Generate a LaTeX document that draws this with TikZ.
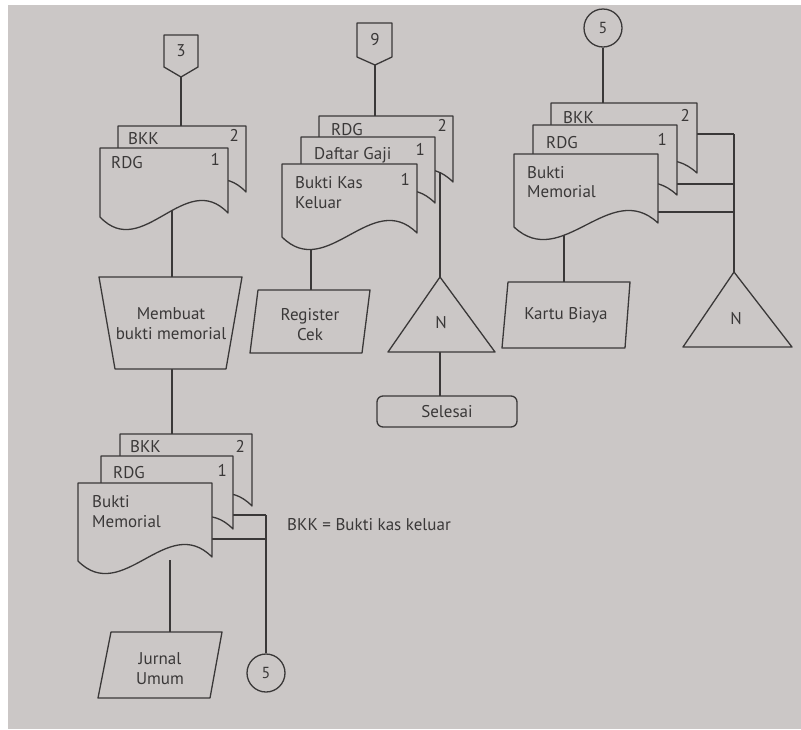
\documentclass[tikz,border=0pt]{standalone}
\usepackage{fontspec}
\setmainfont{PT Sans}
\usetikzlibrary{calc}
\definecolor{paper}{RGB}{203,199,198}
\definecolor{ink}{RGB}{58,56,56}
\newcommand{\mydoc}[5]{%
  \pgfmathsetmacro{\wA}{#1+(#3-#1)/3}%
  \pgfmathsetmacro{\wB}{#3-(#3-#1)/3}%
  \pgfmathsetmacro{\yA}{#4-45}%
  \pgfmathsetmacro{\yB}{#4+49}%
  \pgfmathsetmacro{\yC}{#4+4}%
  \draw[shp] (#1,#2) -- (#3,#2) -- (#3,#4) .. controls (\wB,\yA) and (\wA,\yB) .. (#1,\yC) -- cycle;
  \coordinate (#5) at ({(#1+#3)/2},{(#2+#4)/2});
}
\begin{document}
\begin{tikzpicture}[x=1pt,y=-1pt,
  shp/.style={draw=ink,fill=paper,line width=1.3pt,line join=round},
  conn/.style={draw=ink,line width=1.3pt},
  lbl/.style={font=\fontsize{17}{20}\selectfont,text=ink,inner sep=0pt},
  ctr/.style={lbl,align=center},
  conncirc/.style={circle,draw=ink,line width=1.3pt,fill=paper,minimum size=38pt,inner sep=0pt,font=\fontsize{16}{18}\selectfont,text=ink}]
\useasboundingbox (0,0) rectangle (801,729);
\fill[paper] (0,0) rectangle (801,729);
\fill[white] (0,0) rectangle (801,5);
\fill[white] (0,0) rectangle (8,729);

% ---------- named connector ends ----------
\coordinate (p3) at (181,77);
\coordinate (p9) at (375,65);
\node[conncirc] (c5a) at (603,28) {5};
\node[conncirc] (c5b) at (266,673) {5};

\coordinate (trapT) at (172,277);
\coordinate (trapB) at (172,369);
\coordinate (jurT) at (170,632);
\coordinate (regT) at (311,290);
\coordinate (triA) at (440,277);
\coordinate (triAb) at (440,352);
\coordinate (selT) at (440,396);
\coordinate (karT) at (564,282);
\coordinate (triB) at (734,272);
\coordinate (j1a) at (266,515);
\coordinate (j1b) at (266,539);
\coordinate (j3a) at (734,134);
\coordinate (j3b) at (734,184);
\coordinate (j3c) at (734,212);

% ---------- connectors (drawn first; documents hide their inner parts) ----------
\draw[conn] (p3) -- (181,140);
\draw[conn] (172,200) -- (trapT);
\draw[conn] (trapB) -- (172,450);
\draw[conn] (225,515) -- (j1a);
\draw[conn] (200,539) -- (j1b);
\draw[conn] (j1a) -- (c5b.north);
\draw[conn] (170,560) -- (jurT);

\draw[conn] (p9) -- (375,130);
\draw[conn] (440,150) -- (triA);
\draw[conn] (triAb) -- (selT);
\draw[conn] (311,230) -- (regT);

\draw[conn] (c5a.south) -- (603,120);
\draw[conn] (690,134) -- (j3a);
\draw[conn] (670,184) -- (j3b);
\draw[conn] (650,212) -- (j3c);
\draw[conn] (j3a) -- (triB);
\draw[conn] (564,235) -- (karT);

% ---------- column 1 ----------
\draw[shp] (164,35) -- (198,35) -- (198,67) -- (p3) -- (164,67) -- cycle;
\node[lbl] (t3) at (181,51) {3};
\mydoc{118}{126}{246}{192}{dA}
\mydoc{100}{148}{228}{213}{dB}
\node[lbl,anchor=base west] (lA) at (128,144) {BKK};
\node[lbl,anchor=base east] (nA) at (239,141) {2};
\node[lbl,anchor=base west] (lB) at (111,168) {RDG};
\node[lbl,anchor=base east] (nB) at (220,165) {1};

\draw[shp] (99,277) -- (242,277) -- (226,369) -- (115,369) -- cycle;
\node[ctr] (trap) at (171,324) {Membuat\\bukti memorial};

\mydoc{120}{434}{252}{506}{dC}
\mydoc{101}{456}{233}{529}{dD}
\mydoc{78}{483}{212}{557}{dE}
\node[lbl,anchor=base west] (lC) at (130,452) {BKK};
\node[lbl,anchor=base east] (nC) at (245,452) {2};
\node[lbl,anchor=base west] (lD) at (113,478) {RDG};
\node[lbl,anchor=base east] (nD) at (227,476) {1};
\node[lbl,anchor=base west] (lE) at (92,507) {Bukti};
\node[lbl,anchor=base west] (lE2) at (92,527) {Memorial};

\draw[shp] (111,632) -- (222,632) -- (210,698) -- (98,698) -- cycle;
\node[ctr] (jur) at (160,669) {Jurnal\\Umum};

\node[lbl,anchor=base west] (leg) at (287,530) {BKK = Bukti kas keluar};

% ---------- column 2 ----------
\draw[shp] (357,23) -- (392,23) -- (392,57) -- (p9) -- (357,57) -- cycle;
\node[lbl] (t9) at (375,40) {9};
\mydoc{319}{116}{453}{182}{dF}
\mydoc{301}{137}{435}{203}{dG}
\mydoc{282}{164}{417}{233}{dH}
\node[lbl,anchor=base west] (lF) at (331,135) {RDG};
\node[lbl,anchor=base east] (nF) at (447,131) {2};
\node[lbl,anchor=base west] (lG) at (314,159) {Daftar Gaji};
\node[lbl,anchor=base east] (nG) at (425,155) {1};
\node[lbl,anchor=base west] (lH) at (295,188) {Bukti Kas};
\node[lbl,anchor=base west] (lH2) at (295,208) {Keluar};
\node[lbl,anchor=base east] (nH) at (410,185) {1};

\draw[shp] (triA) -- (495,352) -- (388,352) -- cycle;
\node[lbl] (nN1) at (441,323) {N};
\draw[shp,rounded corners=6pt] (377,396) rectangle (517,427);
\node[lbl] (sel) at (447,412) {Selesai};

\draw[shp] (258,290) -- (370,290) -- (362,353) -- (250,353) -- cycle;
\node[ctr] (reg) at (310,325) {Register\\Cek};

% ---------- column 3 ----------
\mydoc{551}{103}{697}{173}{dI}
\mydoc{533}{125}{677}{195}{dJ}
\mydoc{514}{154}{658}{223}{dK}
\node[lbl,anchor=base west] (lI) at (563,123) {BKK};
\node[lbl,anchor=base east] (nI) at (690,121) {2};
\node[lbl,anchor=base west] (lJ) at (546,148) {RDG};
\node[lbl,anchor=base east] (nJ) at (667,145) {1};
\node[lbl,anchor=base west] (lK) at (527,178) {Bukti};
\node[lbl,anchor=base west] (lK2) at (527,197) {Memorial};

\draw[shp] (triB) -- (792,347) -- (683,347) -- cycle;
\node[lbl] (nN2) at (736,319) {N};

\draw[shp] (508,282) -- (630,282) -- (625,348) -- (502,348) -- cycle;
\node[lbl] (kar) at (566,315) {Kartu Biaya};
\end{tikzpicture}
\end{document}
